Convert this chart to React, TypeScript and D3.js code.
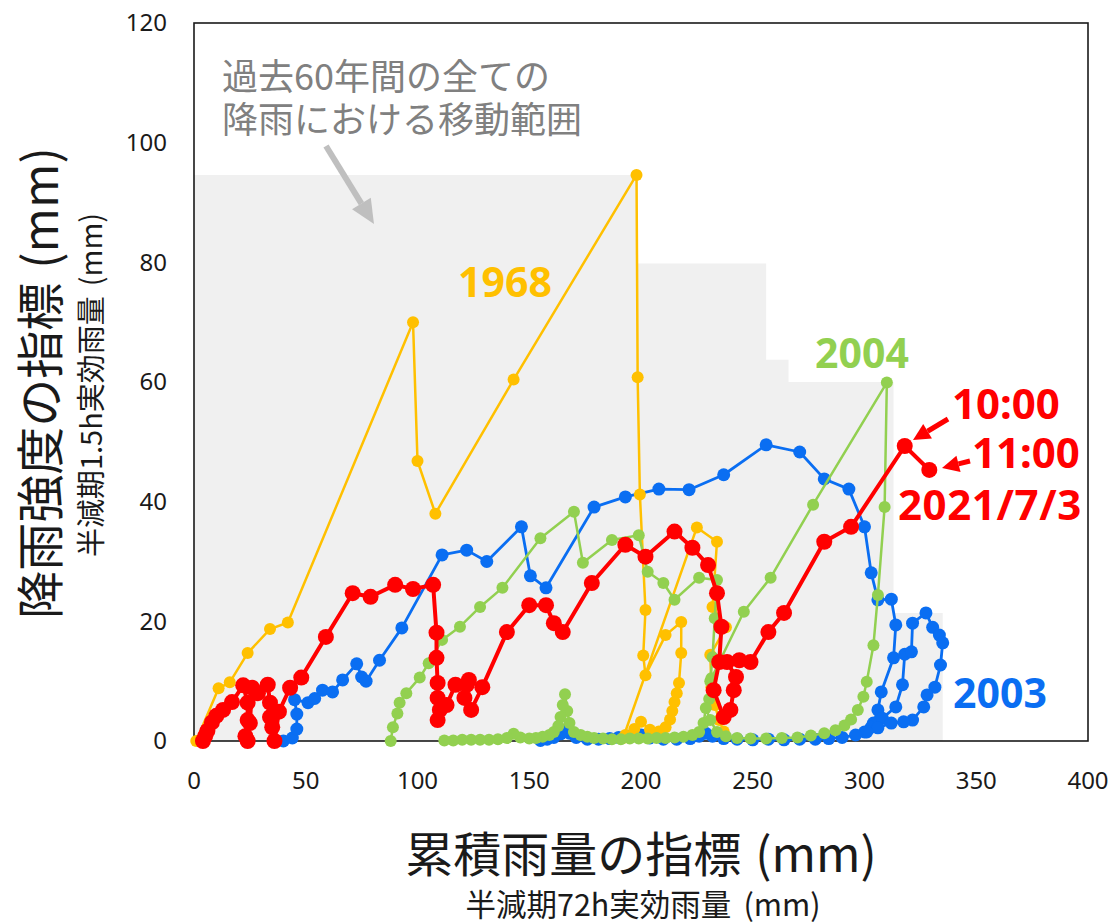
import React from 'react';
import * as d3 from 'd3';

type Pt = [number, number];

const W = 1115;
const H = 924;

const X_TICKS = [0, 50, 100, 150, 200, 250, 300, 350, 400];
const Y_TICKS = [0, 20, 40, 60, 80, 100, 120];

// Envelope of all storms over the past 60 years (step outline)
const ENVELOPE: Pt[] = [
  [0, 0], [0, 94.6], [198.5, 94.6], [198.5, 79.8], [256, 79.8], [256, 63.7],
  [266, 63.7], [266, 60], [313, 60], [313, 21.4], [335, 21.4], [335, 0],
];

const RAIN_1968: Pt[] = [
  [1, 0], [11, 8.8], [16, 9.8], [24, 14.7], [34, 18.7], [42, 19.8], [98, 70], [100, 46.8],
  [108, 38], [143, 60.4], [198, 94.6], [198.5, 60.8], [199.5, 41.2], [202, 21.9], [201, 14.3],
  [202, 11], [211, 17.7], [218, 19.9], [218, 14.7], [217, 9.7], [216, 8], [215, 6.5],
  [214, 5], [213, 3.6], [211, 2.3], [208, 1.6], [204, 1.9], [200, 3.2], [197, 2],
  [193, 1], [192, 0.5], [225, 35.7], [234, 33.3], [232, 22.4], [238, 19], [231, 14.4],
  [231.5, 9], [233, 6], [235, 3.5], [237, 1.6],
];

const RAIN_2003: Pt[] = [
  [40, 0], [44, 0.5], [46, 2], [46, 4.5], [45, 6.9], [51, 6.4], [54, 7.1], [57.5, 8.5],
  [62, 8.2], [66.5, 10.2], [72.8, 12.9], [75, 10.7], [77, 10], [83, 13.5], [93, 18.9],
  [111, 31.1], [122, 31.9], [131, 30], [146.5, 35.8], [150.5, 27.6], [157.5, 25.6],
  [179, 39.1], [193, 40.8], [208, 42.1], [221.5, 42], [237, 44.5], [256, 49.5],
  [271, 48.3], [282, 43.8], [293, 42.1], [300, 35.8], [303, 28.1], [306, 23.6],
  [312, 23.7], [314, 19.4], [313, 13.9], [307.5, 8.2], [306, 5.2], [304, 3], [300, 1.5],
  [303, 2.3], [308, 3.8], [314, 5.7], [317, 9.4], [318, 14.5], [321, 14.9], [321.5, 19.7],
  [327.5, 21.4], [330.5, 19], [333.5, 17.7], [335, 16.4], [334, 12.7], [331.5, 9],
  [328, 7.7], [326.5, 5.7], [321.5, 3.5], [317.5, 3.2], [312, 3], [306, 2.2], [301, 1.5],
  [296, 1], [290, 0.6], [284, 0.4], [278, 0.3], [271, 0.3], [264, 0.2], [257, 0.3],
  [250, 0.2], [243, 0.3], [237, 0.4], [232, 0.8], [229, 1.3], [226, 0.8], [222, 0.4],
  [216, 0.3], [210, 0.3], [204, 0.5], [200, 1], [197, 1.2], [194, 0.8], [190, 0.6],
  [186, 0.4], [181, 0.3], [176, 0.3], [171, 0.6], [168, 1.3], [166, 1.8], [164, 1.2],
  [161, 0.6], [158, 0.3], [155, 0.1],
];

const RAIN_2004: Pt[] = [
  [88, 0], [89, 2.3], [91, 4.6], [92, 6.4], [95, 8], [101, 10.6], [105, 13], [111, 16.9],
  [119, 19.1], [128, 22.4], [138, 25.6], [155, 33.9], [170, 38.3], [174, 29.8],
  [187, 33.6], [199, 34.4], [203, 28.3], [210, 26.4], [215, 23.6], [226, 27.3],
  [234, 26.9], [233, 20.5], [232, 14], [231, 10], [230.5, 7], [231.5, 10.5],
  [246, 21.6], [258, 27.3], [277, 39.5], [310, 59.9], [309, 39.1], [306, 24.4],
  [304, 16], [301, 9.9], [299.5, 7.4], [297, 5.2], [294, 3.6], [291, 2.6], [287, 1.8],
  [282, 1.3], [276, 0.9], [270, 0.6], [263, 0.5], [256, 0.4], [249, 0.4], [243, 0.5],
  [238, 0.8], [234, 1.5], [231, 3.5], [229, 5.5], [228, 3], [226, 1.5], [223, 1],
  [219, 0.7], [215, 0.6], [211, 0.5], [207, 0.5], [203, 0.4], [199, 0.4], [195, 0.4],
  [191, 0.3], [187, 0.3], [183, 0.4], [179, 0.5], [176, 0.7], [173, 1], [170, 1.5],
  [168, 3], [167, 5], [166, 7.8], [165, 6], [164, 4], [163, 2.5], [161, 1.5], [159, 1],
  [156, 0.7], [153, 0.5], [150, 0.4], [146, 0.6], [143, 1.2], [140, 0.5], [136, 0.3],
  [132, 0.2], [128, 0.2], [124, 0.2], [120, 0.2], [116, 0.1], [112, 0.1],
];

const RAIN_2021: Pt[] = [
  [4, 0], [5, 0.8], [6, 1.7], [8, 3.1], [10, 4.2], [13, 5.2], [17, 6.5], [22, 9.3],
  [24, 6.4], [24, 3.5], [23, 0.8], [24, 0], [25, 3], [26, 8.9], [28.6, 8], [33, 9.4],
  [34, 6.4], [34, 4], [35, 2.3], [36, 0], [38, 4.9], [43, 8.9], [48, 10.6], [59, 17.4],
  [71, 24.7], [79, 24.1], [90, 26.1], [98, 25.4], [107, 26.1], [108.5, 18.1],
  [108.5, 13.9], [109, 9.7], [109, 7.2], [110, 5.2], [109, 3.5], [113, 6], [117, 9.4],
  [122, 9.4], [123, 10.2], [121, 7.2], [124, 5.2], [129, 9], [140, 18.2], [150, 22.7],
  [157.5, 22.7], [161, 19.7], [165, 18.2], [178, 26.4], [193, 32.8], [202, 30.8],
  [215, 35], [223, 32.3], [230, 29.4], [234, 24.7], [236, 19.1], [235, 13.2],
  [232.5, 8.5], [237, 4], [240, 5.2], [241.5, 8.5], [242.5, 10.7], [238.5, 13.2],
  [244, 13.5], [249, 13.2], [257, 18.2], [264, 21.4], [282, 33.3], [294, 35.8],
  [318, 49.3], [329, 45.3],
];

const SERIES = [
  { key: '2003', data: RAIN_2003, color: '#0A6EF2', r: 6.5, w: 2.8 },
  { key: '1968', data: RAIN_1968, color: '#FFC000', r: 6, w: 2.5 },
  { key: '2004', data: RAIN_2004, color: '#92D050', r: 6, w: 2.5 },
  { key: '2021', data: RAIN_2021, color: '#FF0000', r: 8, w: 4 },
];

const LATIN = "'Noto Sans', 'DejaVu Sans', sans-serif";
const CJK = "'Noto Sans CJK JP', 'Noto Sans', sans-serif";

const left = 194, right = 1088, top = 23, bottom = 741;
const x = d3.scaleLinear().domain([0, 400]).range([left, right]);
const y = d3.scaleLinear().domain([0, 120]).range([bottom, top]);

const line = d3.line<Pt>().x((d) => x(d[0])).y((d) => y(d[1]));

function Arrow({ x1, y1, x2, y2, color, width, head, headW }: {
  x1: number; y1: number; x2: number; y2: number; color: string; width: number; head: number; headW: number;
}) {
  const a = Math.atan2(y2 - y1, x2 - x1);
  const bx = x2 - head * Math.cos(a);
  const by = y2 - head * Math.sin(a);
  const px = -Math.sin(a) * headW / 2;
  const py = Math.cos(a) * headW / 2;
  return (
    <g>
      <line x1={x1} y1={y1} x2={bx} y2={by} stroke={color} strokeWidth={width} />
      <polygon points={`${x2},${y2} ${bx + px},${by + py} ${bx - px},${by - py}`} fill={color} />
    </g>
  );
}

export default function App() {
  return (
    <div style={{ position: 'absolute', left: 0, top: 0 }}>
      <svg width={W} height={H} viewBox={`0 0 ${W} ${H}`} style={{ display: 'block', background: '#fff' }}>
        {/* range envelope */}
        <path d={line(ENVELOPE) + 'Z'} fill="#F0F0F0" />

        {/* plot frame */}
        <rect x={left} y={top} width={right - left} height={bottom - top} fill="none" stroke="#1a1a1a" strokeWidth={1.6} />

        {/* annotation */}
        <text fontFamily={CJK} fontSize={36} fill="#808080">
          <tspan x={222} y={90}>過去60年間の全ての</tspan>
          <tspan x={222} y={133}>降雨における移動範囲</tspan>
        </text>
        <Arrow x1={326} y1={146} x2={374} y2={224} color="#BFBFBF" width={6} head={24} headW={22} />

        {/* storm trajectories */}
        {SERIES.map((s) => (
          <g key={s.key}>
            <path d={line(s.data) ?? ''} fill="none" stroke={s.color} strokeWidth={s.w} strokeLinejoin="round" />
            {s.data.map((d, i) => (
              <circle key={i} cx={x(d[0])} cy={y(d[1])} r={s.r} fill={s.color} />
            ))}
          </g>
        ))}

        {/* series labels */}
        <text x={505} y={297} textAnchor="middle" fontFamily={LATIN} fontWeight={700} fontSize={41} fill="#FFC000">1968</text>
        <text x={862} y={368} textAnchor="middle" fontFamily={LATIN} fontWeight={700} fontSize={41} fill="#92D050">2004</text>
        <text x={1000} y={708} textAnchor="middle" fontFamily={LATIN} fontWeight={700} fontSize={41} fill="#0A6EF2">2003</text>
        <text x={952} y={419} fontFamily={LATIN} fontWeight={700} fontSize={42} fill="#FF0000">10:00</text>
        <text x={972} y={468} fontFamily={LATIN} fontWeight={700} fontSize={42} fill="#FF0000">11:00</text>
        <text x={898} y={520} fontFamily={LATIN} fontWeight={700} fontSize={42} letterSpacing={0.6} fill="#FF0000">2021/7/3</text>
        <Arrow x1={948} y1={419} x2={913} y2={440} color="#FF0000" width={5} head={17} headW={17} />
        <Arrow x1={970} y1={461} x2={942} y2={468} color="#FF0000" width={5} head={17} headW={17} />

        {/* y tick labels */}
        {Y_TICKS.map((t) => (
          <text key={t} x={167} y={y(t)} dy="0.35em" textAnchor="end" fontFamily={LATIN} fontSize={24} fill="#1a1a1a">{t}</text>
        ))}
        {/* x tick labels */}
        {X_TICKS.map((t) => (
          <text key={t} x={x(t)} y={789} textAnchor="middle" fontFamily={LATIN} fontSize={24} fill="#1a1a1a">{t}</text>
        ))}

        {/* axis titles */}
        <text transform="translate(58,383) rotate(-90)" textAnchor="middle" fontFamily={CJK} fontSize={48} fill="#1a1a1a">
          降雨強度の指標<tspan dx={14}>(mm)</tspan>
        </text>
        <text transform="translate(102,385) rotate(-90)" textAnchor="middle" fontFamily={CJK} fontSize={29} fill="#1a1a1a">
          半減期1.5h実効雨量<tspan dx={10}>(mm)</tspan>
        </text>
        <text x={641} y={872} textAnchor="middle" fontFamily={CJK} fontSize={48} fill="#1a1a1a">
          累積雨量の指標<tspan dx={14}>(mm)</tspan>
        </text>
        <text x={643} y={916} textAnchor="middle" fontFamily={CJK} fontSize={30.5} fill="#1a1a1a">
          半減期72h実効雨量<tspan dx={12}>(mm)</tspan>
        </text>
      </svg>
    </div>
  );
}
